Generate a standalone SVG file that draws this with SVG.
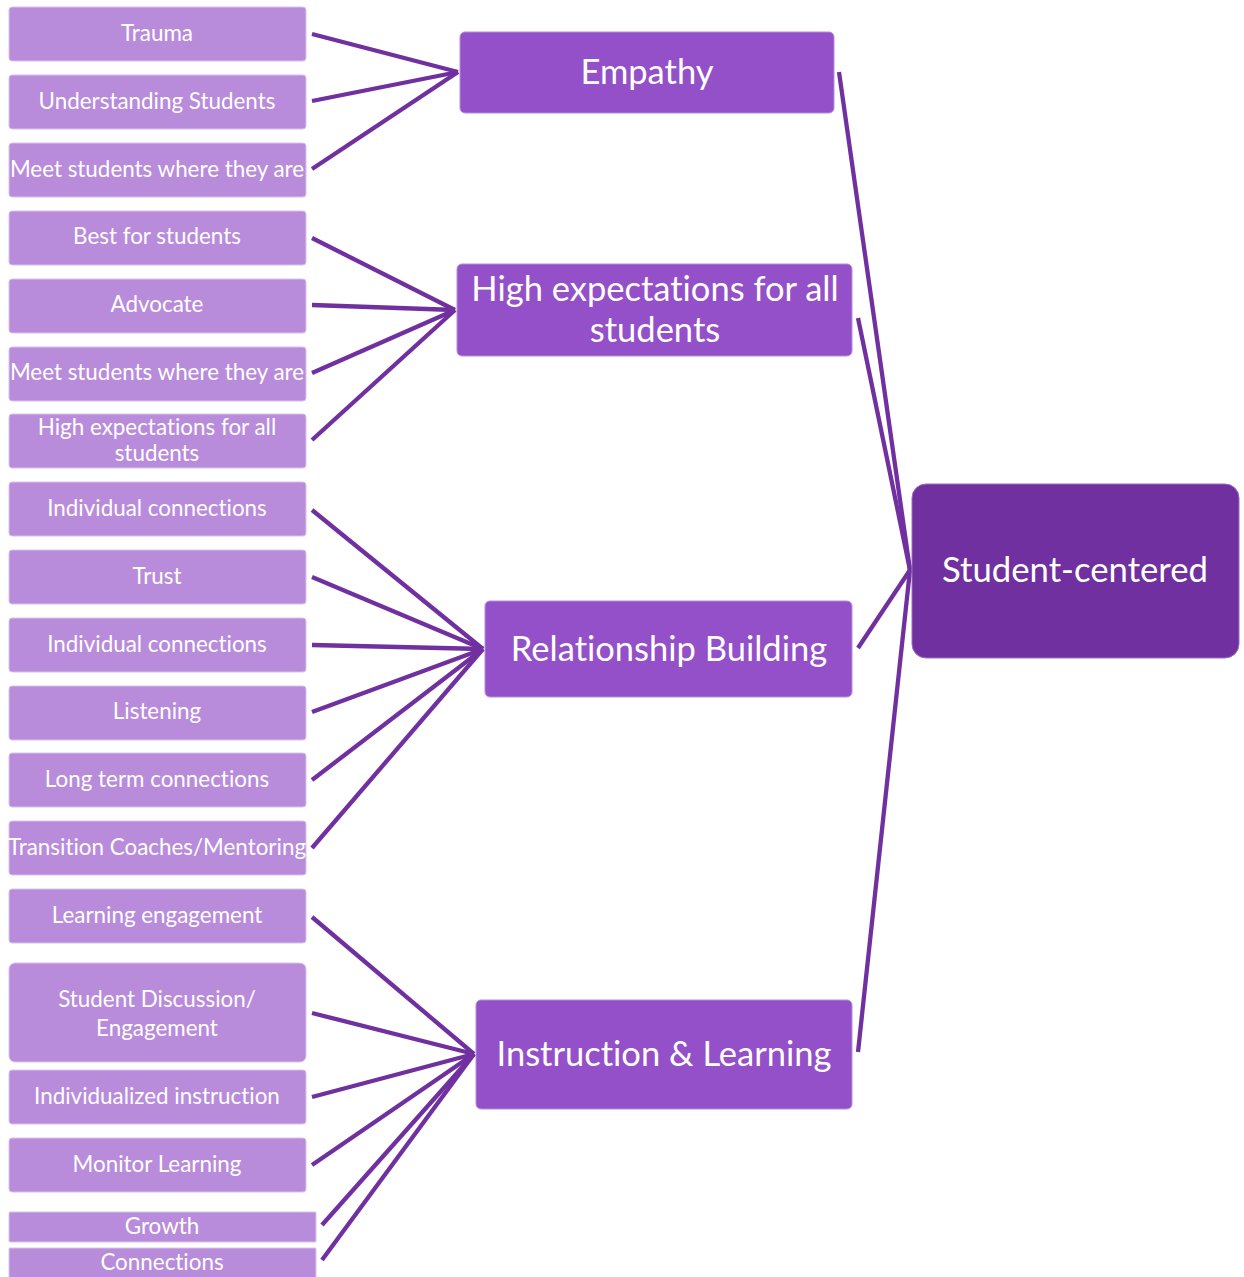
<svg xmlns="http://www.w3.org/2000/svg" width="1244" height="1277" viewBox="0 0 1244 1277">
<style>
text{font-variant-ligatures:none;font-feature-settings:"liga" 0}
.leaf rect{fill:#B88CDB;stroke:#D8C2EC;stroke-width:1}
.leaf text{fill:#fff;font-family:Lato,"Open Sans",sans-serif;font-size:22.4px;text-anchor:middle;dominant-baseline:central}
.mid rect{fill:#9450C8;stroke:#B48DDA;stroke-width:1}
.mid text{fill:#fff;font-family:Lato,"Open Sans",sans-serif;font-size:34.5px;text-anchor:middle;dominant-baseline:central}
.root rect{fill:#7030A0;stroke:#9A6CC0;stroke-width:1}
.root text{fill:#fff;font-family:Lato,"Open Sans",sans-serif;font-size:34.7px;text-anchor:middle;dominant-baseline:central}
#connectors line{stroke:#7030A0;stroke-width:4.3;stroke-linecap:butt}
</style>
<rect width="1244" height="1277" fill="#fff"/>
<g id="connectors">
<line x1="312" y1="34" x2="458" y2="72"/>
<line x1="312" y1="101" x2="458" y2="72"/>
<line x1="312" y1="169" x2="458" y2="72"/>
<line x1="312" y1="238" x2="455" y2="310"/>
<line x1="312" y1="305" x2="455" y2="310"/>
<line x1="312" y1="373" x2="455" y2="310"/>
<line x1="312" y1="440" x2="455" y2="310"/>
<line x1="312" y1="510" x2="483" y2="649"/>
<line x1="312" y1="577" x2="483" y2="649"/>
<line x1="312" y1="645" x2="483" y2="649"/>
<line x1="312" y1="712" x2="483" y2="649"/>
<line x1="312" y1="780" x2="483" y2="649"/>
<line x1="312" y1="848" x2="483" y2="649"/>
<line x1="312" y1="917" x2="474" y2="1054"/>
<line x1="312" y1="1013" x2="474" y2="1054"/>
<line x1="312" y1="1097" x2="474" y2="1054"/>
<line x1="312" y1="1165" x2="474" y2="1054"/>
<line x1="322" y1="1225" x2="474" y2="1054"/>
<line x1="322" y1="1260" x2="474" y2="1054"/>
<line x1="839" y1="72" x2="910" y2="570"/>
<line x1="858" y1="318" x2="910" y2="570"/>
<line x1="858" y1="648" x2="910" y2="570"/>
<line x1="858" y1="1052" x2="910" y2="570"/>
</g>
<g id="leaf1" class="leaf"><rect x="9" y="7" width="297" height="54" rx="3"/><text x="157" y="32">Trauma</text></g>
<g id="leaf2" class="leaf"><rect x="9" y="75" width="297" height="54" rx="3"/><text x="157" y="100">Understanding Students</text></g>
<g id="leaf3" class="leaf"><rect x="9" y="143" width="297" height="54" rx="3"/><text x="157" y="168">Meet students where they are</text></g>
<g id="leaf4" class="leaf"><rect x="9" y="211" width="297" height="54" rx="3"/><text x="157" y="235">Best for students</text></g>
<g id="leaf5" class="leaf"><rect x="9" y="279" width="297" height="54" rx="3"/><text x="157" y="303">Advocate</text></g>
<g id="leaf6" class="leaf"><rect x="9" y="347" width="297" height="54" rx="3"/><text x="157" y="371">Meet students where they are</text></g>
<g id="leaf7" class="leaf"><rect x="9" y="414" width="297" height="54" rx="3"/><text x="157" y="426">High expectations for all</text><text x="157" y="452">students</text></g>
<g id="leaf8" class="leaf"><rect x="9" y="482" width="297" height="54" rx="3"/><text x="157" y="507">Individual connections</text></g>
<g id="leaf9" class="leaf"><rect x="9" y="550" width="297" height="54" rx="3"/><text x="157" y="575">Trust</text></g>
<g id="leaf10" class="leaf"><rect x="9" y="618" width="297" height="54" rx="3"/><text x="157" y="643">Individual connections</text></g>
<g id="leaf11" class="leaf"><rect x="9" y="686" width="297" height="54" rx="3"/><text x="157" y="710">Listening</text></g>
<g id="leaf12" class="leaf"><rect x="9" y="753" width="297" height="54" rx="3"/><text x="157" y="778">Long term connections</text></g>
<g id="leaf13" class="leaf"><rect x="9" y="821" width="297" height="54" rx="3"/><text x="157" y="846">Transition Coaches/Mentoring</text></g>
<g id="leaf14" class="leaf"><rect x="9" y="889" width="297" height="54" rx="3"/><text x="157" y="914">Learning engagement</text></g>
<g id="leaf15" class="leaf"><rect x="9" y="963" width="297" height="99" rx="6"/><text x="157" y="998">Student Discussion/</text><text x="157" y="1027">Engagement</text></g>
<g id="leaf16" class="leaf"><rect x="9" y="1070" width="297" height="54" rx="3"/><text x="157" y="1095">Individualized instruction</text></g>
<g id="leaf17" class="leaf"><rect x="9" y="1138" width="297" height="54" rx="3"/><text x="157" y="1163">Monitor Learning</text></g>
<g id="leaf18" class="leaf"><rect x="9" y="1212" width="307" height="30" rx="1"/><text x="162" y="1225">Growth</text></g>
<g id="leaf19" class="leaf"><rect x="9" y="1248" width="307" height="32" rx="1"/><text x="162" y="1261">Connections</text></g>
<g id="empathy" class="mid"><rect x="460" y="32" width="374" height="81" rx="5"/><text x="647" y="70">Empathy</text></g>
<g id="highexp" class="mid"><rect x="457" y="264" width="395" height="92" rx="5"/><text x="655" y="287">High expectations for all</text><text x="655" y="328">students</text></g>
<g id="relationship" class="mid"><rect x="485" y="601" width="367" height="96" rx="5"/><text x="669" y="647">Relationship Building</text></g>
<g id="instruction" class="mid"><rect x="476" y="1000" width="376" height="109" rx="5"/><text x="664" y="1052">Instruction &amp; Learning</text></g>
<g id="studentcentered" class="root"><rect x="912" y="484" width="327" height="174" rx="14"/><text x="1075" y="568">Student-centered</text></g>
</svg>
